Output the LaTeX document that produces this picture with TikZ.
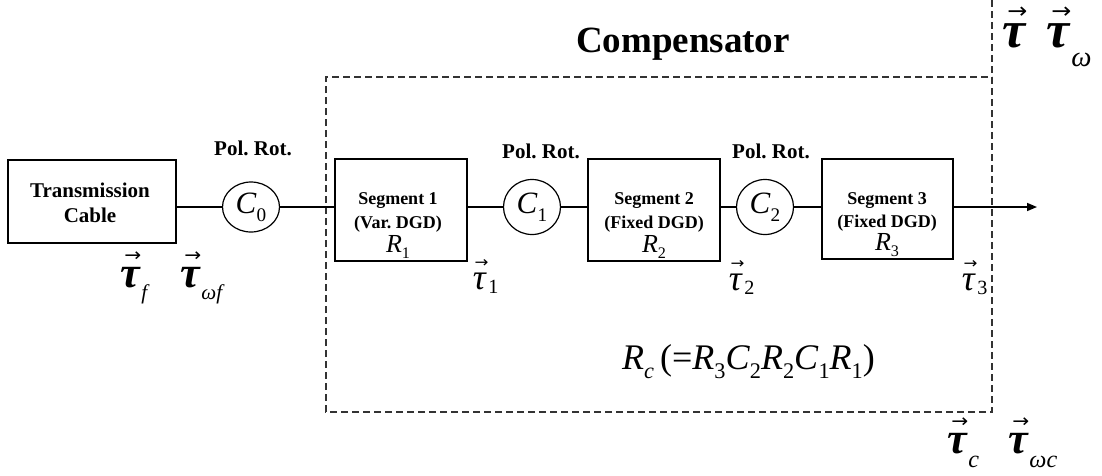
\documentclass[tikz,border=0pt]{standalone}
\usepackage{fontspec}
\setmainfont{Liberation Serif}
\newfontfamily\arrowfont{DejaVu Sans}
\usepackage{graphicx}
\usepackage{amsmath}
\usetikzlibrary{arrows.meta,shapes.geometric}
\newcommand{\vtau}[1][\bfseries]{\ensuremath{\overset{\mbox{\hspace{0.12em}\scalebox{0.46}[0.42]{\arrowfont →}}}{\mbox{#1\itshape τ}}}}
\newcommand{\lsub}[3]{\raisebox{#1}{\scalebox{#2}{#3}}}
\newcommand{\isub}[2]{\textit{#1}\lsub{-0.25em}{0.62}{#2}}
\frenchspacing
\begin{document}
\begin{tikzpicture}[x=1pt,y=-1pt,
 blk/.style={draw,line width=1.3pt,inner sep=0pt,minimum width=132pt,minimum height=102pt},
 rot/.style={draw,ellipse,line width=1.2pt,minimum width=57pt,minimum height=55pt,inner sep=0pt,font=\fontsize{31}{31}\selectfont},
 bl/.style={font=\fontsize{21}{21}\selectfont\bfseries,anchor=base,inner sep=0pt},
 sl/.style={font=\fontsize{18}{18}\selectfont\bfseries,anchor=base,inner sep=0pt},
 rl/.style={font=\fontsize{26}{26}\selectfont,anchor=base,inner sep=0pt},
 tl/.style={anchor=base west,inner sep=0pt},
 wire/.style={line width=1.5pt},
 frame/.style={dash pattern=on 7pt off 4pt,line width=1.1pt,black!80}]
\useasboundingbox (0,0) rectangle (1102,475);
% frame
\coordinate (ftop) at (992,0);
\coordinate (fbr) at (992,412);
\coordinate (fbl) at (326,412);
\coordinate (ftl) at (326,77);
\coordinate (ftr) at (992,77);
\draw[frame] (ftop) -- (fbr) -- (fbl) -- (ftl) -- (ftr);
% blocks
\node[blk,minimum width=168pt,minimum height=83pt] (cable) at (92,201.5) {};
\node[bl] (cab1) at (90,197) {Transmission};
\node[bl] (cab2) at (90,222) {Cable};
\node[rot,minimum height=50pt] (c0) at (251,207) {\isub{C}{0}};
\node[rot] (c1) at (532,207) {\isub{C}{1}};
\node[rot] (c2) at (765,207) {\isub{C}{2}};
\node[blk] (s1) at (401,210) {};
\node[blk] (s2) at (654,210) {};
\node[blk,minimum width=131pt,minimum height=100pt] (s3) at (887.5,209) {};
\node[sl] (s1a) at (398,204) {Segment 1};
\node[sl] (s1b) at (398,228) {(Var. DGD)};
\node[rl] (s1c) at (398,252) {\isub{R}{1}};
\node[sl] (s2a) at (654,204) {Segment 2};
\node[sl] (s2b) at (654,228) {(Fixed DGD)};
\node[rl] (s2c) at (654,252) {\isub{R}{2}};
\node[sl] (s3a) at (887,204) {Segment 3};
\node[sl] (s3b) at (887,227) {(Fixed DGD)};
\node[rl] (s3c) at (887,250) {\isub{R}{3}};
% wires
\coordinate (out) at (1037,207);
\draw[wire] (cable.east |- c0.west) -- (c0.west);
\draw[wire] (c0.east) -- (c0.east -| s1.west);
\draw[wire] (c1.west -| s1.east) -- (c1.west);
\draw[wire] (c1.east) -- (c1.east -| s2.west);
\draw[wire] (c2.west -| s2.east) -- (c2.west);
\draw[wire] (c2.east) -- (c2.east -| s3.west);
\draw[wire,-{Triangle[length=10pt,width=8pt]}] (out -| s3.east) -- (out);
% labels
\node[bl] (p0) at (253,155) {Pol. Rot.};
\node[bl] (p1) at (541,158) {Pol. Rot.};
\node[bl] (p2) at (771,158) {Pol. Rot.};
\node[font=\fontsize{37}{37}\selectfont\bfseries,anchor=base,inner sep=0pt] (comp) at (683,52) {Compensator};
\node[tl,font=\fontsize{52}{52}\selectfont] (tt) at (1001,47) {\vtau};
\node[tl,font=\fontsize{52}{52}\selectfont] (tw) at (1045,47) {\vtau\lsub{-0.38em}{0.55}{\itshape ω}};
\node[tl,font=\fontsize{44}{44}\selectfont] (tf) at (119,287) {\vtau\lsub{-0.28em}{0.48}{\itshape f}};
\node[tl,font=\fontsize{44}{44}\selectfont] (twf) at (179,287) {\vtau\lsub{-0.28em}{0.48}{\itshape ωf}};
\node[tl,font=\fontsize{44}{44}\selectfont] (tc) at (946,453) {\vtau\lsub{-0.34em}{0.55}{\itshape c}};
\node[tl,font=\fontsize{44}{44}\selectfont] (twc) at (1007,453) {\vtau\lsub{-0.34em}{0.55}{\itshape ωc}};
\node[tl,font=\fontsize{36}{36}\selectfont] (t1) at (470,289) {\vtau[\mdseries]\lsub{-0.12em}{0.56}{1}};
\node[tl,font=\fontsize{36}{36}\selectfont] (t2) at (726,290) {\vtau[\mdseries]\lsub{-0.12em}{0.56}{2}};
\node[tl,font=\fontsize{36}{36}\selectfont] (t3) at (959,290) {\vtau[\mdseries]\lsub{-0.12em}{0.56}{3}};
\node[anchor=west,inner sep=0pt,font=\fontsize{36}{36}\selectfont] (rc) at (622,362)
 {\isub{R}{\itshape c}\,(=\isub{R}{3}\isub{C}{2}\isub{R}{2}\isub{C}{1}\isub{R}{1})};
\end{tikzpicture}
\end{document}
